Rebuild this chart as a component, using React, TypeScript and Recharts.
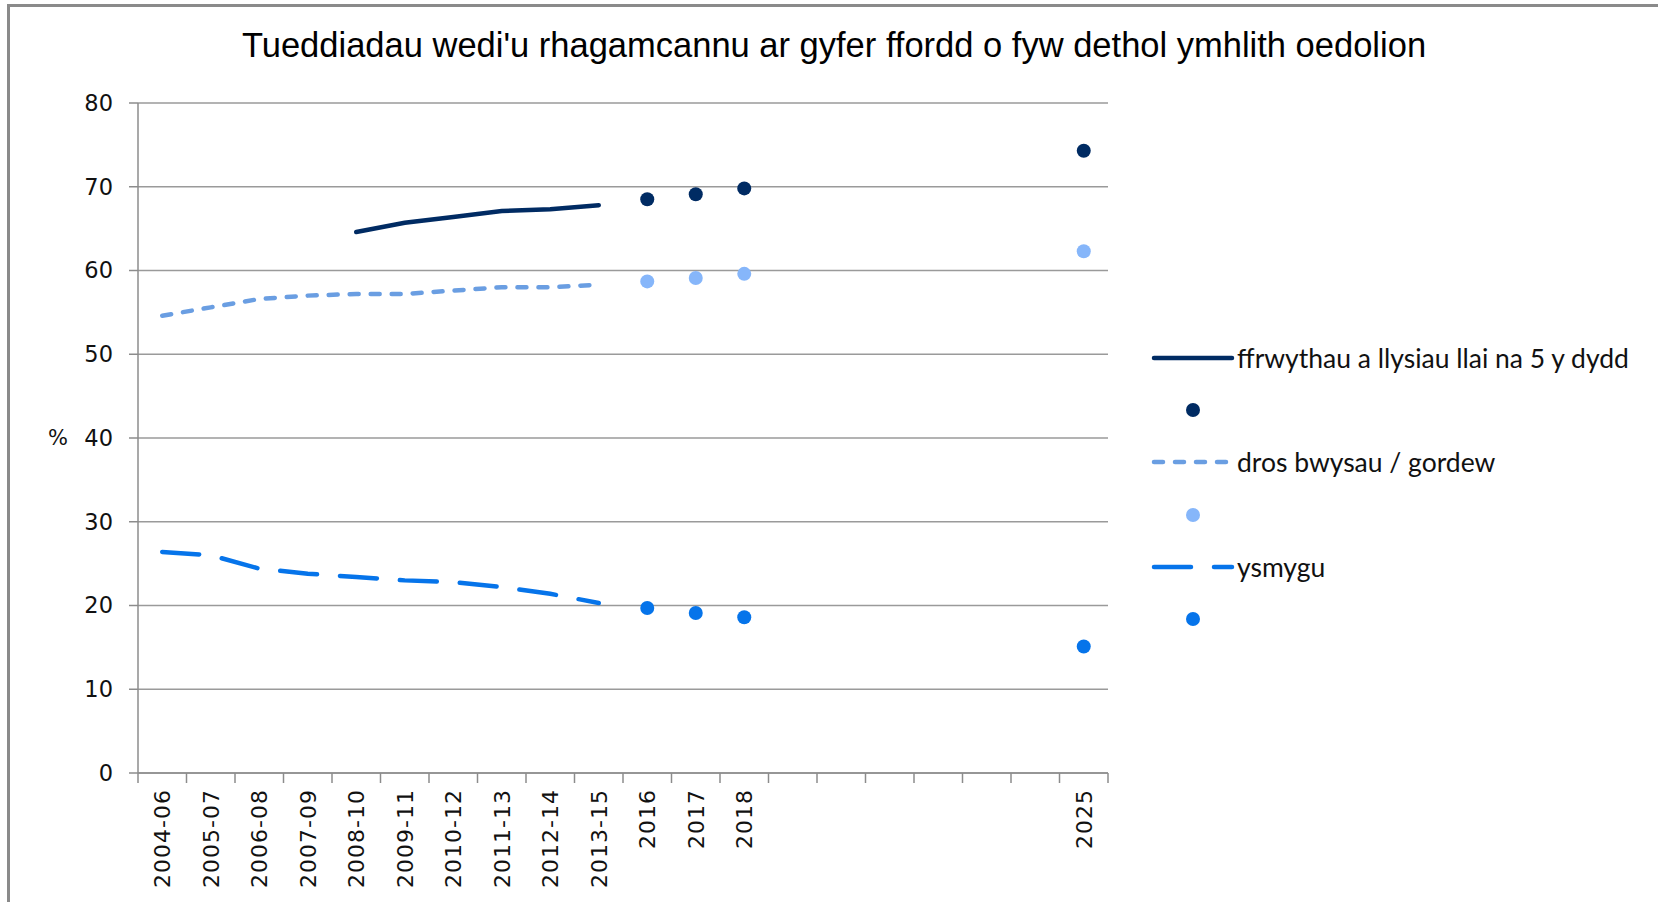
import React from "react";
import {
  CartesianGrid,
  ComposedChart,
  Line,
  XAxis,
  YAxis,
} from "recharts";

const CATEGORIES = [
  "2004-06", "2005-07", "2006-08", "2007-09", "2008-10",
  "2009-11", "2010-12", "2011-13", "2012-14", "2013-15",
  "2016", "2017", "2018", "", "", "", "", "", "", "2025",
];

const FRUIT_TREND = [null, null, null, null, 64.6, 65.7, 66.4, 67.1, 67.3, 67.8, null, null, null, null, null, null, null, null, null, null];
const FRUIT_PROJ = [null, null, null, null, null, null, null, null, null, null, 68.5, 69.1, 69.8, null, null, null, null, null, null, 74.3];
const OVER_TREND = [54.6, 55.6, 56.6, 57.0, 57.2, 57.2, 57.6, 58.0, 58.0, 58.3, null, null, null, null, null, null, null, null, null, null];
const OVER_PROJ = [null, null, null, null, null, null, null, null, null, null, 58.7, 59.1, 59.6, null, null, null, null, null, null, 62.3];
const SMOKE_TREND = [26.4, 26.0, 24.4, 23.8, 23.4, 23.0, 22.8, 22.2, 21.4, 20.3, null, null, null, null, null, null, null, null, null, null];
const SMOKE_PROJ = [null, null, null, null, null, null, null, null, null, null, 19.7, 19.1, 18.6, null, null, null, null, null, null, 15.1];

const Y_TICKS = [0, 10, 20, 30, 40, 50, 60, 70, 80];

const NAVY = "#002B63";
const OVER_LINE = "#6A9EE2";
const OVER_DOT = "#86B6FA";
const SMOKE = "#0674EA";

const data = CATEGORIES.map((label, i) => ({
  i,
  label,
  fruit: FRUIT_TREND[i],
  fruitPt: FRUIT_PROJ[i],
  over: OVER_TREND[i],
  overPt: OVER_PROJ[i],
  smoke: SMOKE_TREND[i],
  smokePt: SMOKE_PROJ[i],
}));

// label ticks at category centres, tick marks on the boundaries
const X_TICKS: number[] = [];
for (let k = 0; k <= CATEGORIES.length; k++) {
  X_TICKS.push(k - 0.5);
  if (k < CATEGORIES.length) X_TICKS.push(k);
}

const LEGEND_ROWS = [
  { kind: "line", color: NAVY, dash: "", label: "ffrwythau a llysiau llai na 5 y dydd" },
  { kind: "dot", color: NAVY, label: "" },
  { kind: "line", color: OVER_LINE, dash: "9 12", label: "dros bwysau / gordew" },
  { kind: "dot", color: OVER_DOT, label: "" },
  { kind: "line", color: SMOKE, dash: "37 23", label: "ysmygu" },
  { kind: "dot", color: SMOKE, label: "" },
];

function XTick(props: any) {
  const { x, y, payload } = props;
  const v = payload.value as number;
  if (!Number.isInteger(v)) {
    return <line x1={x} x2={x} y1={y} y2={y + 10} stroke="#8c8c8c" strokeWidth={1.5} />;
  }
  const txt = CATEGORIES[v];
  if (!txt) return null;
  return (
    <text
      x={x}
      y={y + 16}
      dy="0.36em"
      transform={`rotate(-90, ${x}, ${y + 16})`}
      textAnchor="end"
      fontFamily="DejaVu Sans"
      fontSize={22}
      letterSpacing={1}
      fill="#111"
    >
      {txt}
    </text>
  );
}

function LegendBox() {
  return (
    <div style={{ fontFamily: "Lato", fontSize: 26.5, color: "#111" }}>
      {LEGEND_ROWS.map((r, idx) => (
        <div key={idx} style={{ height: 52.2, display: "flex", alignItems: "center" }}>
          <svg width={86} height={20} style={{ flex: "none" }}>
            {r.kind === "line" ? (
              <line
                x1={4}
                x2={82}
                y1={10}
                y2={10}
                stroke={r.color}
                strokeWidth={4.5}
                strokeLinecap="round"
                strokeDasharray={r.dash || undefined}
              />
            ) : (
              <circle cx={43} cy={10} r={7} fill={r.color} />
            )}
          </svg>
          <span style={{ marginLeft: 1, whiteSpace: "nowrap" }}>{r.label}</span>
        </div>
      ))}
    </div>
  );
}

export default function App() {
  return (
    <div
      style={{
        position: "absolute",
        left: 0,
        top: 0,
        width: 1658,
        height: 902,
        background: "#fff",
        overflow: "hidden",
      }}
    >
      <div
        style={{
          position: "absolute",
          left: 7,
          top: 4,
          right: 0,
          bottom: -10,
          borderTop: "3px solid #8a8a8a",
          borderLeft: "3px solid #8a8a8a",
        }}
      />
      <div
        style={{
          position: "absolute",
          left: 0,
          top: 26,
          width: 1668,
          textAlign: "center",
          fontFamily: "Liberation Sans",
          fontSize: 34.5,
          color: "#000",
        }}
      >
        Tueddiadau wedi'u rhagamcannu ar gyfer ffordd o fyw dethol ymhlith oedolion
      </div>
      <div style={{ position: "absolute", left: 0, top: 0 }}>
        <ComposedChart
          width={1658}
          height={902}
          data={data}
          margin={{ top: 103, right: 550, bottom: 0, left: 60 }}
        >
          <CartesianGrid horizontal vertical={false} stroke="#9a9a9a" strokeWidth={1.5} />
          <XAxis
            dataKey="i"
            type="number"
            domain={[-0.5, CATEGORIES.length - 0.5]}
            ticks={X_TICKS}
            interval={0}
            tick={<XTick />}
            tickLine={false}
            tickSize={0}
            tickMargin={0}
            height={129}
            axisLine={{ stroke: "#8c8c8c", strokeWidth: 1.5 }}
            allowDataOverflow
          />
          <YAxis
            type="number"
            domain={[0, 80]}
            ticks={Y_TICKS}
            interval={0}
            width={78}
            tickSize={9}
            tickMargin={16}
            tickLine={{ stroke: "#8c8c8c", strokeWidth: 1.5 }}
            axisLine={{ stroke: "#8c8c8c", strokeWidth: 1.5 }}
            tick={{ fontFamily: "DejaVu Sans", fontSize: 22.5, fill: "#111" }}
            label={{
              value: "%",
              position: "left",
              offset: -8,
              fontFamily: "DejaVu Sans",
              fontSize: 21,
              fill: "#111",
            }}
          />
          <Line
            dataKey="fruit"
            stroke={NAVY}
            strokeWidth={4.5}
            strokeLinecap="round"
            dot={false}
            isAnimationActive={false}
          />
          <Line
            dataKey="over"
            stroke={OVER_LINE}
            strokeWidth={4.5}
            strokeLinecap="round"
            strokeDasharray="9 12"
            dot={false}
            isAnimationActive={false}
          />
          <Line
            dataKey="smoke"
            stroke={SMOKE}
            strokeWidth={4.5}
            strokeLinecap="round"
            strokeDasharray="37 23"
            dot={false}
            isAnimationActive={false}
          />
          <Line
            dataKey="fruitPt"
            stroke="none"
            dot={{ r: 7, fill: NAVY, stroke: "none" }}
            activeDot={false}
            isAnimationActive={false}
          />
          <Line
            dataKey="overPt"
            stroke="none"
            dot={{ r: 7, fill: OVER_DOT, stroke: "none" }}
            activeDot={false}
            isAnimationActive={false}
          />
          <Line
            dataKey="smokePt"
            stroke="none"
            dot={{ r: 7, fill: SMOKE, stroke: "none" }}
            activeDot={false}
            isAnimationActive={false}
          />
        </ComposedChart>
      </div>
      <div style={{ position: "absolute", left: 1150, top: 332 }}>
        <LegendBox />
      </div>
    </div>
  );
}
